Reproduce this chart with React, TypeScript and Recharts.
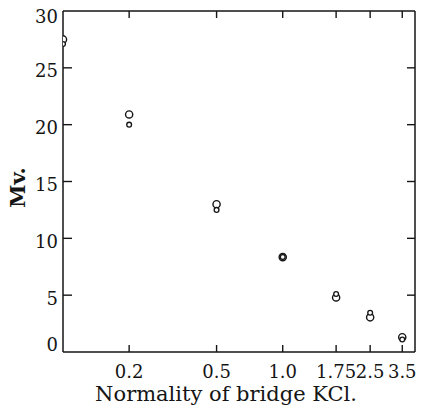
import React from "react";
import { ScatterChart, Scatter, XAxis, YAxis, ReferenceLine } from "recharts";

const normality = [0.1, 0.2, 0.5, 1.0, 1.75, 2.5, 3.5];
const largeCircles = [27.5, 20.9, 13.0, 8.35, 4.8, 3.05, 1.3];
const smallCircles = [27.1, 20.0, 12.5, 8.35, 5.1, 3.45, 1.1];
const xTicks = [0.2, 0.5, 1.0, 1.75, 2.5, 3.5];
const yTicks = [0, 5, 10, 15, 20, 25, 30];

const dataLarge = normality.map((n, i) => ({ x: n, y: largeCircles[i] }));
const dataSmall = normality.map((n, i) => ({ x: n, y: smallCircles[i] }));

const FONT = "'DejaVu Serif', 'Liberation Serif', serif";
const INK = "#151515";
const CHART_H = 405;
const TOP = 11;
const XAXIS_H = 53;
const PLOT_H = CHART_H - TOP - XAXIS_H;

const fmtX = (v: number) => (v === 1 ? "1.0" : String(v));

const BottomTick = (props: any) => {
  const { x, y, payload } = props;
  const top = y - PLOT_H;
  return (
    <g>
      <line x1={x} x2={x} y1={y} y2={y - 7} stroke={INK} strokeWidth={1.4} />
      <line x1={x} x2={x} y1={top} y2={top + 7} stroke={INK} strokeWidth={1.4} />
      <text x={x} y={y + 19} textAnchor="middle" dominantBaseline="central" fontFamily={FONT} fontSize={18} fill={INK}>
        {fmtX(payload.value)}
      </text>
    </g>
  );
};

const LeftTick = (props: any) => {
  const { x, y, payload } = props;
  const v = payload.value;
  const dy = v === 0 ? -8 : v === 30 ? 5 : 3;
  return (
    <g>
      {v !== 0 && v !== 30 && <line x1={x} x2={x + 9} y1={y} y2={y} stroke={INK} strokeWidth={1.4} />}
      <text x={x - 5} y={y + dy} textAnchor="end" dominantBaseline="central" fontFamily={FONT} fontSize={18} fill={INK}>
        {v}
      </text>
    </g>
  );
};

const RightTick = (props: any) => {
  const { x, y, payload } = props;
  const v = payload.value;
  if (v === 0 || v === 30) return <g />;
  return <line x1={x} x2={x - 8} y1={y} y2={y} stroke={INK} strokeWidth={1.4} />;
};

const bigShape = (p: any) => (
  <circle cx={p.cx} cy={p.cy} r={3.6} fill="#fff" stroke={INK} strokeWidth={1.4} />
);
const smallShape = (p: any) => (
  <circle cx={p.cx} cy={p.cy} r={2.4} fill="#fff" stroke={INK} strokeWidth={1.3} />
);

const YLabel = (props: any) => {
  const vb = props.viewBox || {};
  const cx = 17;
  const cy = (vb.y || 0) + (vb.height || 0) / 2 + 6;
  return (
    <text
      x={cx}
      y={cy}
      transform={`rotate(-90, ${cx}, ${cy})`}
      textAnchor="middle"
      dominantBaseline="central"
      fontFamily={FONT}
      fontSize={21}
      fontWeight="bold"
      fill={INK}
    >
      Mv.
    </text>
  );
};

const XLabel = (props: any) => {
  const vb = props.viewBox || {};
  const cx = 226;
  const cy = (vb.y || 0) + 42;
  return (
    <text x={cx} y={cy} textAnchor="middle" dominantBaseline="central" fontFamily={FONT} fontSize={21} fill={INK}>
      Normality of bridge KCl.
    </text>
  );
};

export default function App() {
  return (
    <div style={{ position: "absolute", left: 0, top: 0, width: 433, height: 405, background: "#fff" }}>
      <ScatterChart width={433} height={CHART_H} margin={{ top: TOP, right: 9, bottom: 0, left: 0 }}>
        <XAxis
          xAxisId="bottom"
          dataKey="x"
          type="number"
          scale="log"
          domain={[0.1, 4]}
          allowDataOverflow
          ticks={xTicks}
          orientation="bottom"
          height={XAXIS_H}
          tickSize={0}
          tickMargin={0}
          tickLine={false}
          axisLine={{ stroke: INK, strokeWidth: 1.5 }}
          tick={<BottomTick />}
          interval={0}
          label={<XLabel />}
        />
        <YAxis
          yAxisId="left"
          dataKey="y"
          type="number"
          domain={[0, 30]}
          allowDataOverflow
          ticks={yTicks}
          width={63}
          tickSize={0}
          tickMargin={0}
          tickLine={false}
          axisLine={{ stroke: INK, strokeWidth: 1.5 }}
          tick={<LeftTick />}
          interval={0}
          label={<YLabel />}
        />
        <YAxis
          yAxisId="right"
          dataKey="y"
          orientation="right"
          type="number"
          domain={[0, 30]}
          allowDataOverflow
          ticks={yTicks}
          width={9}
          tickSize={0}
          tickMargin={0}
          tickLine={false}
          axisLine={{ stroke: INK, strokeWidth: 1.5 }}
          tick={<RightTick />}
          interval={0}
        />
        <ReferenceLine yAxisId="left" xAxisId="bottom" y={30} stroke={INK} strokeWidth={1.6} />
        <Scatter data={dataLarge} xAxisId="bottom" yAxisId="left" shape={bigShape} isAnimationActive={false} />
        <Scatter data={dataSmall} xAxisId="bottom" yAxisId="left" shape={smallShape} isAnimationActive={false} />
        <Scatter data={dataLarge} xAxisId="bottom" yAxisId="right" shape={() => <g />} isAnimationActive={false} />
      </ScatterChart>
    </div>
  );
}
